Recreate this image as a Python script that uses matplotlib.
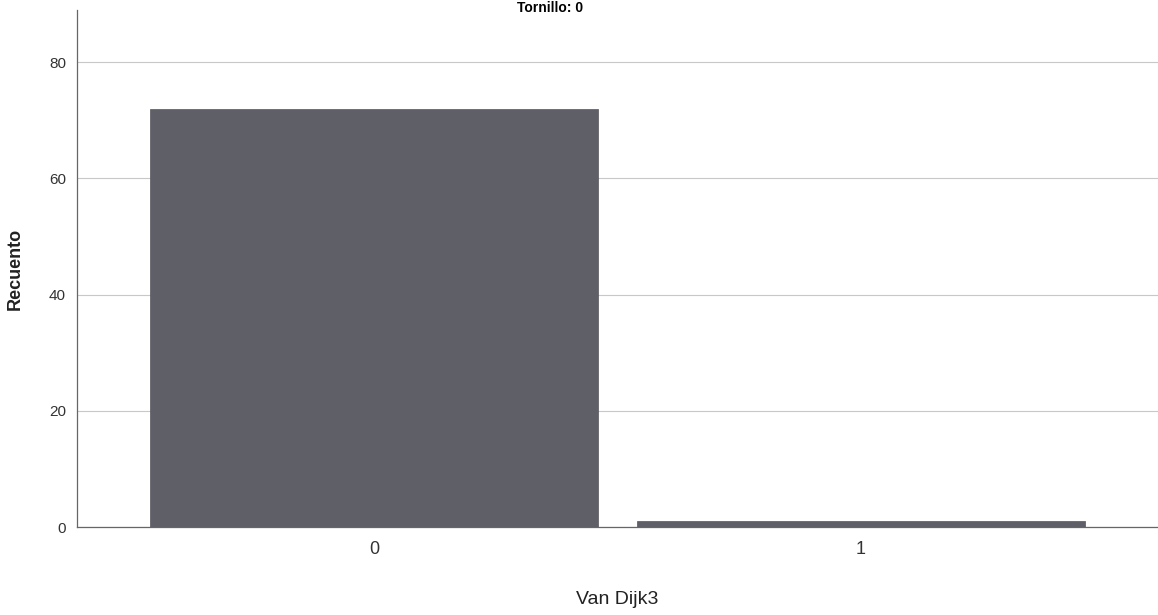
import matplotlib
matplotlib.use('Agg')
import matplotlib.pyplot as plt

plt.rcParams['font.family'] = ['Liberation Sans', 'DejaVu Sans']

# data
categories = ['0', '1']
counts = [72, 1]
yticks = [0, 20, 40, 60, 80]

fig = plt.figure(figsize=(11.58, 6.15), dpi=100)
ax = fig.add_axes([0.0665, 0.143, 0.9335, 0.841])

xpos = list(range(len(categories)))
ax.bar(xpos, counts, width=0.92, color='#5f5f68', edgecolor='#55555c', linewidth=0.5, zorder=3)

ax.set_xlim(-0.61, 1.61)
ax.set_ylim(0, 89)
ax.set_yticks(yticks)
ax.set_xticks(xpos)
ax.set_xticklabels(categories, fontsize=13, color='#333333')
ax.tick_params(axis='y', labelsize=11, length=0, pad=8, colors='#333333')
ax.tick_params(axis='x', length=0, pad=10)
ax.yaxis.grid(True, color='#c8c8c8', linewidth=0.8, zorder=0)

for s in ['top', 'right']:
    ax.spines[s].set_visible(False)
for s in ['left', 'bottom']:
    ax.spines[s].set_color('#666666')
    ax.spines[s].set_linewidth(0.9)

ax.set_xlabel('Van Dijk3', fontsize=14, labelpad=24, color='#222222')
ax.set_ylabel('Recuento', fontsize=13, fontweight='bold', labelpad=18, color='#222222')
fig.text(0.475, 0.998, 'Tornillo: 0', ha='center', va='top', fontsize=10, fontweight='bold')

fig.savefig('out.png', dpi=100)
